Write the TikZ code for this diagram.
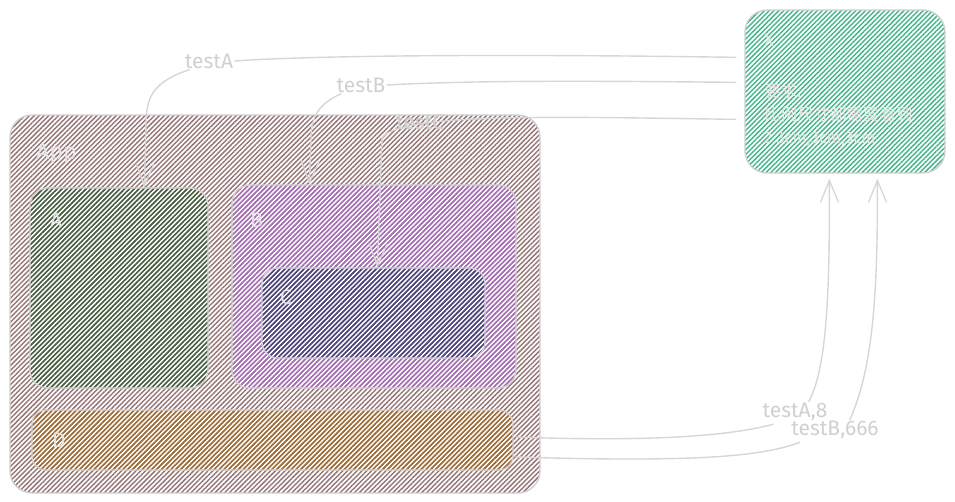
\documentclass[tikz,border=0pt]{standalone}
\usepackage{fontspec}
\setmainfont{Fira Sans}
\newfontfamily\cjk{Noto Sans CJK SC}
\usetikzlibrary{patterns.meta,arrows.meta,calc}
\definecolor{edgec}{HTML}{D6D6D6}
\definecolor{bordc}{HTML}{D0D0D0}
\definecolor{txtc}{HTML}{D0D0D0}
\definecolor{intxt}{HTML}{E4E4E4}
\definecolor{appc}{HTML}{957575}
\definecolor{ac}{HTML}{42623F}
\definecolor{bc}{HTML}{A86EBE}
\definecolor{cc}{HTML}{464878}
\definecolor{dc}{HTML}{A06E30}
\definecolor{xc}{HTML}{45B58B}
\tikzset{
  box/.style={draw=bordc, line width=1.3pt, inner sep=0pt,
    pattern={Lines[angle=45,distance=3.4pt,line width=1.45pt]}},
  boxlabel/.style={text=intxt, font=\fontsize{21}{23}\selectfont, inner sep=0pt, anchor=west},
  edge/.style={draw=edgec, line width=1.4pt},
  tipped/.style={edge, -{Straight Barb[length=22pt,width=18pt,line width=1.3pt]}},
  elabel/.style={text=txtc, font=\fontsize{21}{23}\selectfont, inner sep=1pt},
  wlabel/.style={elabel, fill=white}
}
\begin{document}
\begin{tikzpicture}[x=1pt,y=-1pt]
\useasboundingbox (0,0) rectangle (955,501);
% containers
\node[box, pattern color=appc, rounded corners=22pt, minimum width=530pt, minimum height=378pt] (app) at (275,304) {};
\node[box, pattern color=ac, rounded corners=18pt, minimum width=178pt, minimum height=200pt] (A) at (119,288) {};
\node[box, pattern color=bc, rounded corners=18pt, minimum width=284pt, minimum height=203pt] (B) at (374,286.5) {};
\node[box, pattern color=cc, rounded corners=16pt, minimum width=223pt, minimum height=90pt] (C) at (373.5,313) {};
\node[box, pattern color=dc, rounded corners=14pt, minimum width=481pt, minimum height=60pt] (D) at (272.5,440) {};
\node[box, pattern color=xc, rounded corners=22pt, minimum width=200pt, minimum height=163pt] (X) at (845,91.5) {};
% box labels
\node[boxlabel, font=\fontsize{23}{25}\selectfont] (appl) at (36,154) {App};
\node[boxlabel] (al) at (50,220) {A};
\node[boxlabel] (bl) at (250,220) {B};
\node[boxlabel] (cl) at (280,297) {C};
\node[boxlabel] (dl) at (52,440) {D};
\node[boxlabel, font=\fontsize{18}{20}\selectfont] (xl) at (764,40) {X};
\node[text=intxt, font=\fontsize{16.5}{23}\selectfont, align=left, anchor=north west, inner sep=0pt] (xt) at (764,83)
  {{\cjk 要求:}\\{\cjk 比例尺寸都需要看到}\\2.3cm,3cm,3cm};
% edge labels
\node[wlabel] (lA) at (209,61) {testA};
\node[wlabel] (lB) at (361,85) {testB};
\node[elabel] (lC) at (420,122) {testC};
\node[wlabel] (lA8) at (795,412) {testA,8};
\node[wlabel] (lB6) at (835,430) {testB,666};
% X -> A
\draw[edge] ($(X.north west)+(-8,48)$) .. controls (520,54) and (320,55) .. (lA.east);
\draw[tipped] ($(lA.south west)+(6,0)$) .. controls (152,82) and (146,98) .. (146,125) -- ($(A.north west)+(115,0)$);
% X -> B
\draw[edge] ($(X.north west)+(-8,73)$) .. controls (600,81) and (480,80) .. (lB.east);
\draw[tipped] ($(lB.south west)+(6,0)$) .. controls (318,104) and (311,118) .. (311,138) -- ($(B.north west)+(78,0)$);
% X -> C
\draw[tipped] ($(X.north west)+(-8,110)$) .. controls (560,117) and (400,112) .. (382,138) -- ($(C.north west)+(116,0)$);
\node[elabel] at (lC) {testC};
% D -> X
\draw[edge] ($(D.east)+(2,-3)$) .. controls (650,442) and (730,436) .. ($(lA8.south west)+(12,2)$);
\draw[tipped] ($(lA8.north east)+(-20,0)$) .. controls (826,370) and (830,300) .. ($(X.south west)+(85,5)$);
\draw[edge] ($(D.east)+(2,17)$) .. controls (680,462) and (760,458) .. ($(lB6.south west)+(10,2)$);
\draw[tipped] ($(lB6.north east)+(-30,0)$) .. controls (872,370) and (878,300) .. ($(X.south west)+(133,5)$);
\end{tikzpicture}
\end{document}
